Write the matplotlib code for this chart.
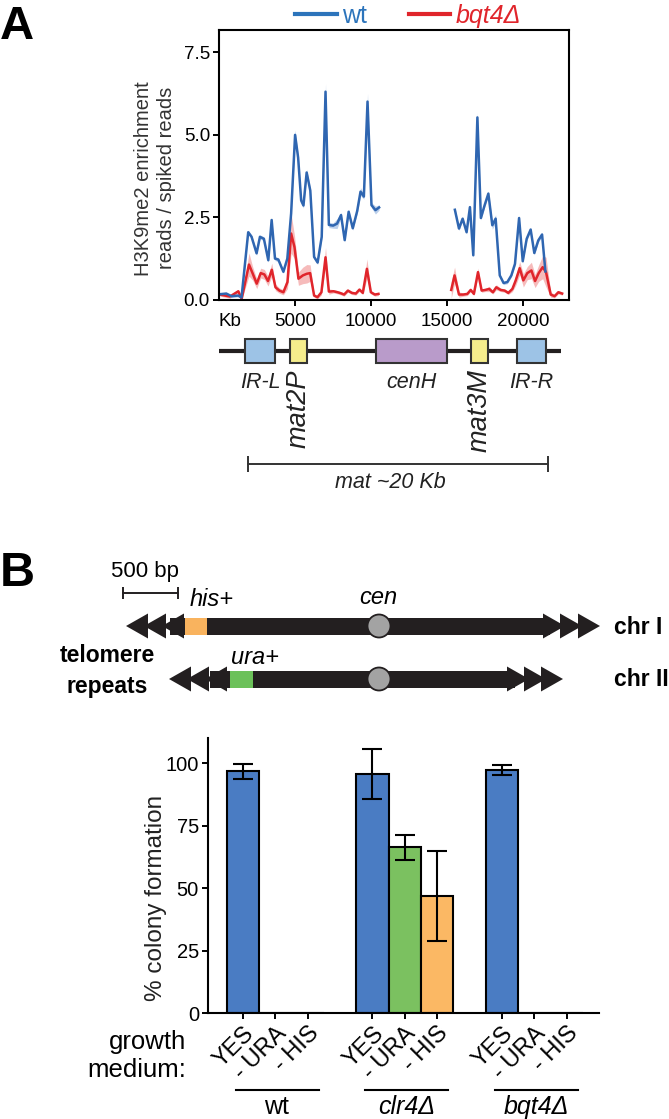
import matplotlib
matplotlib.use('Agg')
import matplotlib.pyplot as plt
from matplotlib.lines import Line2D
from matplotlib.patches import Rectangle, Polygon, Circle
from matplotlib.transforms import blended_transform_factory

plt.rcParams['font.family'] = ['Liberation Sans', 'DejaVu Sans']

# ---- panel A: H3K9me2 ChIP over the mat locus (bp, reads/spiked reads)
wt_x1 = [40, 480, 820, 1260, 1480, 1920, 2140, 2470, 2690, 2950, 3240, 3460, 3680, 3900,
         4230, 4490, 4740, 5000, 5200, 5400, 5550, 5760, 6000, 6250, 6480, 6750, 7000,
         7220, 7500, 7760, 8020, 8260, 8520, 8790, 9080, 9300, 9520, 9760, 10020, 10280, 10520]
wt_y1 = [0.16, 0.18, 0.10, 0.12, 0.06, 2.04, 1.90, 1.40, 1.90, 1.84, 1.19, 2.41, 1.24, 1.21,
         0.84, 1.24, 2.61, 4.99, 4.30, 3.00, 2.85, 3.85, 3.30, 1.29, 1.12, 1.90, 6.30,
         2.26, 2.24, 2.30, 2.56, 1.80, 2.66, 2.16, 2.68, 3.27, 3.12, 6.00, 2.86, 2.71, 2.79]
wt_e1 = [0.04, 0.04, 0.04, 0.04, 0.04, 0.06, 0.06, 0.06, 0.06, 0.06, 0.06, 0.08, 0.06, 0.06,
         0.05, 0.06, 0.08, 0.15, 0.10, 0.08, 0.08, 0.10, 0.08, 0.06, 0.06, 0.06, 0.25,
         0.08, 0.08, 0.15, 0.08, 0.06, 0.08, 0.06, 0.08, 0.12, 0.08, 0.25, 0.08, 0.12, 0.08]
wt_x2 = [15500, 15770, 16010, 16270, 16490, 16710, 16980, 17210, 17450, 17700, 17960, 18180,
         18450, 18700, 18950, 19210, 19450, 19720, 19960, 20220, 20480, 20720, 20980, 21230, 21450]
wt_y2 = [2.72, 2.15, 2.45, 2.04, 2.80, 1.34, 5.52, 2.47, 2.85, 3.21, 2.25, 2.45,
         0.73, 0.50, 0.53, 0.73, 1.08, 2.47, 1.16, 1.84, 2.12, 1.41, 1.79, 1.97, 0.85]
wt_e2 = [0.08, 0.06, 0.06, 0.06, 0.06, 0.06, 0.15, 0.06, 0.06, 0.08, 0.12, 0.12,
         0.05, 0.05, 0.05, 0.05, 0.06, 0.08, 0.06, 0.06, 0.06, 0.06, 0.06, 0.06, 0.06]

bq_x1 = [60, 720, 1270, 1490, 1970, 2220, 2480, 2740, 2980, 3220, 3470, 3710, 3970, 4230,
         4500, 4740, 4960, 5220, 5510, 5770, 5990, 6250, 6470, 6730, 7000, 7220, 7520,
         7790, 8000, 8220, 8470, 8730, 8990, 9230, 9450, 9720, 9980, 10240, 10480]
bq_y1 = [0.15, 0.09, 0.25, 0.02, 1.06, 0.78, 0.48, 0.80, 0.76, 0.56, 0.90, 0.37, 0.27, 0.22,
         0.53, 2.00, 1.59, 0.63, 0.73, 0.78, 0.80, 0.12, 0.07, 0.22, 1.28, 0.24, 0.25,
         0.22, 0.19, 0.15, 0.27, 0.20, 0.18, 0.30, 0.20, 0.93, 0.22, 0.15, 0.17]
bq_e1 = [0.05, 0.05, 0.05, 0.03, 0.35, 0.20, 0.15, 0.15, 0.15, 0.15, 0.20, 0.10, 0.08, 0.08,
         0.20, 0.60, 0.35, 0.20, 0.25, 0.28, 0.25, 0.05, 0.05, 0.08, 0.30, 0.08, 0.05,
         0.05, 0.05, 0.05, 0.05, 0.05, 0.05, 0.05, 0.05, 0.30, 0.05, 0.05, 0.05]
bq_x2 = [15260, 15480, 15770, 16050, 16320, 16540, 16750, 17020, 17260, 17500, 17760, 18000,
         18220, 18510, 18770, 19010, 19280, 19500, 19760, 20000, 20260, 20530, 20770, 21010,
         21270, 21490, 21800, 22050, 22300, 22550]
bq_y2 = [0.29, 0.73, 0.15, 0.15, 0.17, 0.29, 0.17, 0.83, 0.27, 0.29, 0.32, 0.22,
         0.37, 0.29, 0.27, 0.20, 0.32, 0.58, 0.95, 0.58, 0.80, 0.88, 0.56, 0.80,
         0.98, 0.83, 0.15, 0.10, 0.22, 0.18]
bq_e2 = [0.25, 0.25, 0.08, 0.05, 0.05, 0.05, 0.05, 0.12, 0.05, 0.05, 0.08, 0.05,
         0.08, 0.05, 0.05, 0.05, 0.08, 0.15, 0.20, 0.20, 0.20, 0.25, 0.20, 0.25,
         0.35, 0.45, 0.08, 0.05, 0.05, 0.05]

# mat locus features (bp)
regions = ['IR-L', 'mat2P', 'cenH', 'mat3M', 'IR-R']
reg_start = [1710, 4670, 10330, 16560, 19580]
reg_end = [3680, 5770, 14980, 17660, 21510]
locus = [0, 22450]
mat_span = [1930, 21600]

# ---- panel B: silencing assay
media = ['YES', '- URA', '- HIS']
strains = ['wt', 'clr4Δ', 'bqt4Δ']
colony = {'wt': [96.7, 0, 0], 'clr4Δ': [95.5, 66.4, 46.8], 'bqt4Δ': [97.4, 0, 0]}
colony_err = {'wt': [3.0, 0, 0], 'clr4Δ': [10.0, 5.0, 18.0], 'bqt4Δ': [2.0, 0, 0]}

W, H = 669, 1119
def fx(p):
    return p / W
def fy(p):
    return 1 - p / H

wt_col = '#2f66b1'
bq_col = '#e0252b'
dark = '#231f20'

fig = plt.figure(figsize=(6.69, 11.19), dpi=100)

# ================= panel A
ax = fig.add_axes([fx(219), fy(299.5), fx(569) - fx(219), (299.5 - 30) / H])
for xs, ys, es in [(bq_x1, bq_y1, bq_e1), (bq_x2, bq_y2, bq_e2)]:
    ax.fill_between(xs, [y - e for y, e in zip(ys, es)], [y + e for y, e in zip(ys, es)],
                    color='#f08f8f', alpha=0.6, lw=0)
for xs, ys, es in [(wt_x1, wt_y1, wt_e1), (wt_x2, wt_y2, wt_e2)]:
    ax.fill_between(xs, [y - e for y, e in zip(ys, es)], [y + e for y, e in zip(ys, es)],
                    color='#8fb0de', alpha=0.6, lw=0)
ax.plot(bq_x1, bq_y1, color=bq_col, lw=1.8)
ax.plot(bq_x2, bq_y2, color=bq_col, lw=1.8)
ax.plot(wt_x1, wt_y1, color=wt_col, lw=1.8)
ax.plot(wt_x2, wt_y2, color=wt_col, lw=1.8)

ax.set_xlim(0, 23000)
ax.set_ylim(0, 8.17)
ax.set_xticks([5000, 10000, 15000, 20000])
ax.set_yticks([0, 2.5, 5.0, 7.5])
ax.set_yticklabels(['0.0', '2.5', '5.0', '7.5'])
ax.tick_params(direction='out', length=4.5, width=1.4, labelsize=13.5, pad=2)
ax.tick_params(axis='x', pad=5)
for s in ax.spines.values():
    s.set_linewidth(1.5)
ax.text(0, -0.05, 'Kb', transform=blended_transform_factory(ax.transData, ax.transAxes),
        ha='left', va='top', fontsize=13.5)
ax.set_ylabel('H3K9me2 enrichment\nreads / spiked reads', fontsize=14.5, linespacing=1.3,
              color='#333333')
ax.yaxis.set_label_coords(-0.122, 0.45)

handles = [Line2D([], [], color='#2c74bb', lw=3), Line2D([], [], color=bq_col, lw=3)]
leg = ax.legend(handles, ['wt', 'bqt4Δ'], ncol=2, loc='center', bbox_to_anchor=(0.54, 1.052),
                frameon=False, fontsize=18, handlelength=1.65, handletextpad=0.2,
                columnspacing=1.7, borderpad=0, borderaxespad=0)
for t, c in zip(leg.get_texts(), ['#2c74bb', bq_col]):
    t.set_color(c)
leg.get_texts()[1].set_fontstyle('italic')

# mat locus schematic, same x scale as the plot
ad = fig.add_axes([fx(219), fy(500), fx(569) - fx(219), (500 - 325) / H])
ad.set_xlim(0, 23000)
ad.set_ylim(500, 325)
ad.axis('off')
ad.plot(locus, [350.5, 350.5], color=dark, lw=3, solid_capstyle='butt', zorder=1)
reg_colors = {'IR-L': '#9dc3e6', 'IR-R': '#9dc3e6', 'mat2P': '#f5ed8c', 'mat3M': '#f5ed8c',
              'cenH': '#b99bca'}
for name, s, e in zip(regions, reg_start, reg_end):
    ad.add_patch(Rectangle((s, 338.5), e - s, 24, facecolor=reg_colors[name],
                           edgecolor='#333333', lw=1.5, zorder=2))
    c = (s + e) / 2
    if name.startswith('mat'):
        ad.text(c, 369, name, rotation=90, ha='center', va='top', style='italic',
                fontsize=19.5, color='#222222')
    else:
        ad.text(c, 382, name, ha='center', va='center', style='italic', fontsize=15.5,
                color='#222222')
ad.plot(mat_span, [463.5, 463.5], color='#333333', lw=1.4)
ad.plot(mat_span, [463.5, 463.5], ls='none', marker='|', ms=12, mew=1.4, color='#333333')
ad.text(sum(mat_span) / 2 - 500, 482, 'mat ~20 Kb', ha='center', va='center', style='italic',
        fontsize=15.5, color='#222222')

# ================= panel B schematic (pixel coordinates)
ov = fig.add_axes([0, 0, 1, 1])
ov.set_xlim(0, W)
ov.set_ylim(H, 0)
ov.axis('off')

def chromosome(y, x0, x1, ltips, rtips, mark, mcol, cx):
    ov.add_patch(Rectangle((x0, y - 8.5), x1 - x0, 17, color=dark, lw=0))
    for t in ltips:
        ov.add_patch(Polygon([(t, y), (t + 22, y - 12.5), (t + 22, y + 12.5)], closed=True,
                             color=dark, lw=0))
    for t in rtips:
        ov.add_patch(Polygon([(t, y), (t - 22, y - 12.5), (t - 22, y + 12.5)], closed=True,
                             color=dark, lw=0))
    ov.add_patch(Rectangle((mark[0], y - 8.5), mark[1] - mark[0], 17, color=mcol, lw=0))
    ov.add_patch(Circle((cx, y), 11.5, facecolor='#a3a3a3', edgecolor=dark, lw=1.3))

chromosome(626, 170, 550, [126, 144, 162], [565, 582, 600], (185, 207), '#f9b35e', 379)
chromosome(679, 210, 515, [169, 187, 205], [529, 546, 563], (230, 253), '#6cc15a', 379)

ov.text(145, 572, '500 bp', ha='center', va='center', fontsize=16)
ov.plot([123, 178], [593, 593], color=dark, lw=1.4)
ov.plot([123, 178], [593, 593], ls='none', marker='|', ms=9, mew=1.4, color=dark)
ov.text(212, 600, 'his+', ha='center', va='center', style='italic', fontsize=17)
ov.text(378, 598, 'cen', ha='center', va='center', style='italic', fontsize=17)
ov.text(255, 658, 'ura+', ha='center', va='center', style='italic', fontsize=17)
ov.text(614, 627, 'chr I', ha='left', va='center', fontweight='bold', fontsize=16.5)
ov.text(614, 679, 'chr II', ha='left', va='center', fontweight='bold', fontsize=16.5)
ov.text(107, 656, 'telomere', ha='center', va='center', fontweight='bold', fontsize=16.5)
ov.text(107, 686, 'repeats', ha='center', va='center', fontweight='bold', fontsize=16.5)

# ================= panel B bars
bx = fig.add_axes([fx(208), fy(1013.3), fx(599) - fx(208), (1013.3 - 738) / H])
med_colors = ['#4a7cc3', '#7bc160', '#fbb864']
for j, m in enumerate(media):
    xs = [g * 4 + j for g in range(len(strains))]
    hs = [colony[s][j] for s in strains]
    es = [colony_err[s][j] for s in strains]
    bx.bar(xs, hs, width=1.0, color=med_colors[j], edgecolor='black', lw=1.5, zorder=2)
    ex = [x for x, e in zip(xs, es) if e > 0]
    ey = [h for h, e in zip(hs, es) if e > 0]
    ee = [e for e in es if e > 0]
    bx.errorbar(ex, ey, yerr=ee, fmt='none', ecolor='black', elinewidth=1.5, capsize=7,
                capthick=1.5, zorder=3)
bx.set_xlim(-1.08, 11.0)
bx.set_ylim(0, 110)
bx.set_yticks([0, 25, 50, 75, 100])
pos = [g * 4 + j for g in range(len(strains)) for j in range(len(media))]
bx.set_xticks(pos)
bx.set_xticklabels(media * len(strains), rotation=45, ha='right', rotation_mode='anchor',
                   fontsize=17)
bx.tick_params(axis='y', labelsize=14.5)
bx.tick_params(direction='out', length=4.5, width=1.4, pad=2)
bx.spines['top'].set_visible(False)
bx.spines['right'].set_visible(False)
bx.spines['left'].set_linewidth(1.5)
bx.spines['bottom'].set_linewidth(1.5)
bx.set_ylabel('% colony formation', fontsize=17.5, color='#222222')
bx.yaxis.set_label_coords(-0.105, 0.42)

tr = blended_transform_factory(bx.transData, fig.transFigure)
for g, s in enumerate(strains):
    bx.plot([g * 4 - 0.22, g * 4 + 2.35], [fy(1090), fy(1090)], transform=tr, color='black',
            lw=1.5, clip_on=False)
    bx.text(g * 4 + 1.05, fy(1107), s, transform=tr, ha='center', va='center', fontsize=18,
            style='normal' if s == 'wt' else 'italic')
fig.text(fx(186), fy(1056), 'growth\nmedium:', ha='right', va='center', fontsize=18.5,
         linespacing=1.25, multialignment='right')

fig.text(fx(0), fy(5), 'A', ha='left', va='top', fontsize=34, fontweight='bold')
fig.text(fx(0), fy(551), 'B', ha='left', va='top', fontsize=35, fontweight='bold')

fig.savefig('out.png', dpi=100)
